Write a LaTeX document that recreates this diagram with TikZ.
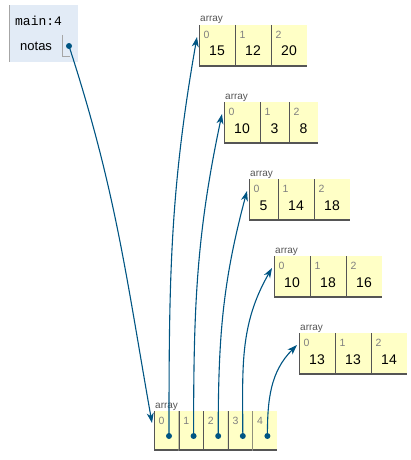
\documentclass[tikz,border=0pt]{standalone}
\usepackage{fontspec}
\setmainfont{Liberation Sans}
\setmonofont{Liberation Mono}
\usetikzlibrary{positioning, arrows.meta}
\definecolor{framebg}{HTML}{E2EBF6}
\definecolor{framebar}{HTML}{A6A6A6}
\definecolor{cellbg}{HTML}{FFFFC6}
\definecolor{cellline}{HTML}{555555}
\definecolor{idxgray}{HTML}{808080}
\definecolor{ptrblue}{HTML}{005583}

\begin{document}
\begin{tikzpicture}[x=1pt, y=-1pt]
% Define styles
\tikzstyle{cell} = [rectangle, fill=cellbg, inner sep=0pt, outer sep=0pt, font=\fontsize{14}{14}\selectfont, text height=31pt, text depth=10pt, minimum width=36pt, path picture={\draw[cellline, line width=2pt] (path picture bounding box.north west) -- (path picture bounding box.south west) -- (path picture bounding box.south east);}]
\tikzstyle{narrow} = [minimum width=29pt]
\tikzstyle{slot} = [cell, minimum width=24.6pt, text height=29pt]
\tikzstyle{idx} = [anchor=base west, inner sep=0pt, text=idxgray, font=\fontsize{10.5}{10.5}\selectfont, xshift=4.5pt, yshift=-13pt]
\tikzstyle{arrlbl} = [anchor=base west, inner sep=0pt, text=cellline, font=\fontsize{10}{10}\selectfont, xshift=1pt, yshift=3pt]
\tikzstyle{framebox} = [rectangle, fill=framebg, inner sep=0pt, minimum width=69pt, minimum height=57pt, path picture={\draw[framebar, line width=2pt] (path picture bounding box.north west) -- (path picture bounding box.south west);}]
\tikzstyle{dot} = [circle, fill=ptrblue, inner sep=0pt, minimum size=6pt]
\tikzstyle{arrow} = [draw=ptrblue, line width=1.1pt, -{Stealth[length=10pt, width=7pt, inset=3pt]}]
\useasboundingbox (0,0) rectangle (411,460);
% Stack frame
\node[framebox, anchor=north west] (frame) at (9,5) {};
\node[anchor=base west, inner sep=0pt, font=\ttfamily\fontsize{13}{13}\selectfont] (fname) at (15,26) {main:4};
\node[anchor=base west, inner sep=0pt, font=\fontsize{13}{13}\selectfont] (varname) at (20,51) {notas};
\draw[framebar] (62,35) -- (62,56) -- (70,56);
\node[dot] (notasptr) at (69,46) {};
% Inner arrays
\node[cell, anchor=north west, label={[arrlbl]north west:array}, label={[idx]north west:0}] (a1c0) at (199,25) {15};
\node[cell, right=0pt of a1c0, label={[idx]north west:1}] (a1c1) {12};
\node[cell, right=0pt of a1c1, label={[idx]north west:2}] (a1c2) {20};
\node[cell, anchor=north west, label={[arrlbl]north west:array}, label={[idx]north west:0}] (a2c0) at ([xshift=25pt, yshift=-77pt]a1c0.north west) {10};
\node[cell, narrow, right=0pt of a2c0, label={[idx]north west:1}] (a2c1) {3};
\node[cell, narrow, right=0pt of a2c1, label={[idx]north west:2}] (a2c2) {8};
\node[cell, narrow, anchor=north west, label={[arrlbl]north west:array}, label={[idx]north west:0}] (a3c0) at ([xshift=25pt, yshift=-77pt]a2c0.north west) {5};
\node[cell, right=0pt of a3c0, label={[idx]north west:1}] (a3c1) {14};
\node[cell, right=0pt of a3c1, label={[idx]north west:2}] (a3c2) {18};
\node[cell, anchor=north west, label={[arrlbl]north west:array}, label={[idx]north west:0}] (a4c0) at ([xshift=25pt, yshift=-77pt]a3c0.north west) {10};
\node[cell, right=0pt of a4c0, label={[idx]north west:1}] (a4c1) {18};
\node[cell, right=0pt of a4c1, label={[idx]north west:2}] (a4c2) {16};
\node[cell, anchor=north west, label={[arrlbl]north west:array}, label={[idx]north west:0}] (a5c0) at ([xshift=25pt, yshift=-77pt]a4c0.north west) {13};
\node[cell, right=0pt of a5c0, label={[idx]north west:1}] (a5c1) {13};
\node[cell, right=0pt of a5c1, label={[idx]north west:2}] (a5c2) {14};
% Outer array
\node[slot, anchor=north west, label={[arrlbl]north west:array}, label={[idx]north west:0}] (b0) at (154,411) {};
\node[slot, right=0pt of b0, label={[idx]north west:1}] (b1) {};
\node[slot, right=0pt of b1, label={[idx]north west:2}] (b2) {};
\node[slot, right=0pt of b2, label={[idx]north west:3}] (b3) {};
\node[slot, right=0pt of b3, label={[idx]north west:4}] (b4) {};
\node[dot] (b0ptr) at ([xshift=15pt, yshift=-25pt]b0.north west) {};
\node[dot] (b1ptr) at ([xshift=15pt, yshift=-25pt]b1.north west) {};
\node[dot] (b2ptr) at ([xshift=15pt, yshift=-25pt]b2.north west) {};
\node[dot] (b3ptr) at ([xshift=15pt, yshift=-25pt]b3.north west) {};
\node[dot] (b4ptr) at ([xshift=15pt, yshift=-25pt]b4.north west) {};
% References (arrows)
\draw[arrow] (notasptr.center) to[out=-72, in=100] ([xshift=-2pt, yshift=-12pt]b0.north west);
\draw[arrow] (b0ptr.center) to[out=90, in=-100] ([xshift=-2pt, yshift=-12pt]a1c0.north west);
\draw[arrow] (b1ptr.center) to[out=90, in=-102] ([xshift=-2pt, yshift=-12pt]a2c0.north west);
\draw[arrow] (b2ptr.center) to[out=90, in=-105] ([xshift=-2pt, yshift=-12pt]a3c0.north west);
\draw[arrow] (b3ptr.center) to[out=90, in=-120] ([xshift=-2pt, yshift=-12pt]a4c0.north west);
\draw[arrow] (b4ptr.center) to[out=90, in=-135] ([xshift=-2pt, yshift=-12pt]a5c0.north west);
\end{tikzpicture}
\end{document}
